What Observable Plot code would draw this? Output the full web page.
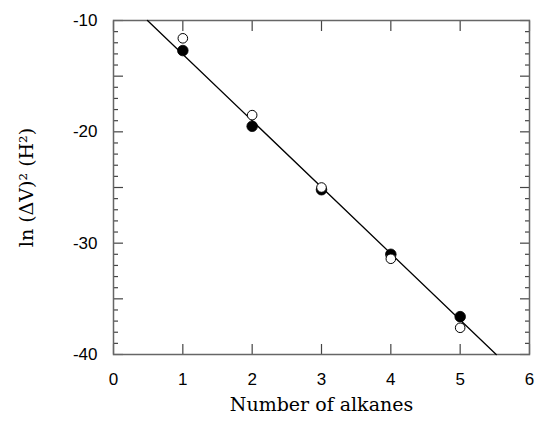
<!DOCTYPE html>
<html>
<head>
<meta charset="utf-8">
<script src="https://cdn.jsdelivr.net/npm/d3@7"></script>
<script src="https://cdn.jsdelivr.net/npm/@observablehq/plot@0.6"></script>
<style>
  html, body { margin: 0; padding: 0; background: #fff; }
  #chart { width: 536px; height: 430px; }
</style>
</head>
<body>
<div id="chart"></div>
<script>
// Data
const alkanes = [1, 2, 3, 4, 5];
const filledValues = [-12.7, -19.5, -25.2, -31.0, -36.6];
const openValues = [-11.6, -18.5, -25.0, -31.4, -37.6];
// fitted line endpoints (where it meets the frame)
const fitX = [0.49, 5.52];
const fitY = [-10, -40];

const xTicks = [0, 1, 2, 3, 4, 5, 6];
const yTicks = [-40, -30, -20, -10];
const yMidTicks = [-35, -25, -15];
const yMinorTicks = d3.range(-40, -9, 1).filter(v => v % 5 !== 0);

const filled = alkanes.map((x, i) => ({x, y: filledValues[i]}));
const open = alkanes.map((x, i) => ({x, y: openValues[i]}));
const fit = fitX.map((x, i) => ({x, y: fitY[i]}));

const sans = "'Liberation Sans', Arial, sans-serif";
const serif = "'DejaVu Serif', serif";
const tickColor = "#444";

const chart = Plot.plot({
  width: 536,
  height: 430,
  marginLeft: 113,
  marginRight: 7,
  marginTop: 20,
  marginBottom: 76,
  style: {fontFamily: sans, background: "#fff", color: "#000", overflow: "visible"},
  x: {domain: [0, 6]},
  y: {domain: [-40, -10]},
  marks: [
    // tick labels
    Plot.axisX({anchor: "bottom", ticks: xTicks, tickSize: 0, tickPadding: 18, fontSize: 17, tickFormat: d => String(d), label: "Number of alkanes", labelAnchor: "center", labelArrow: "none", labelOffset: 56}),
    Plot.axisY({anchor: "left", ticks: yTicks, tickSize: 0, tickPadding: 16, fontSize: 17, tickFormat: d => String(d), label: "ln (ΔV)² (H²)", labelAnchor: "center", labelArrow: "none", labelOffset: 94}),
    // inward ticks, bottom & top
    Plot.axisX({anchor: "bottom", ticks: xTicks, tickSize: -10, text: null, label: null, stroke: tickColor, strokeWidth: 1.2}),
    Plot.axisX({anchor: "top", ticks: xTicks, tickSize: -10, text: null, label: null, stroke: tickColor, strokeWidth: 1.2}),
    // inward ticks, left & right
    Plot.axisY({anchor: "left", ticks: [...yTicks, ...yMidTicks], tickSize: -10, text: null, label: null, stroke: tickColor, strokeWidth: 1.2}),
    Plot.axisY({anchor: "right", ticks: [...yTicks, ...yMidTicks], tickSize: -10, text: null, label: null, stroke: tickColor, strokeWidth: 1.2}),
    Plot.axisY({anchor: "left", ticks: yMinorTicks, tickSize: -5, text: null, label: null, stroke: tickColor, strokeWidth: 1.2}),
    Plot.axisY({anchor: "right", ticks: yMinorTicks, tickSize: -5, text: null, label: null, stroke: tickColor, strokeWidth: 1.2}),
    Plot.frame({stroke: "#666", strokeWidth: 1.5}),
    Plot.line(fit, {x: "x", y: "y", stroke: "#000", strokeWidth: 1.3}),
    Plot.dot(filled, {x: "x", y: "y", r: 5.3, fill: "#000", stroke: "#000", strokeWidth: 0.8}),
    Plot.dot(open, {x: "x", y: "y", r: 4.8, fill: "#fff", stroke: "#000", strokeWidth: 1})
  ]
});

// serif axis titles
d3.select(chart).selectAll("g[aria-label='x-axis label'] text, g[aria-label='y-axis label'] text")
  .style("font-family", serif).style("font-size", "19px");

document.getElementById("chart").appendChild(chart);
</script>
</body>
</html>
